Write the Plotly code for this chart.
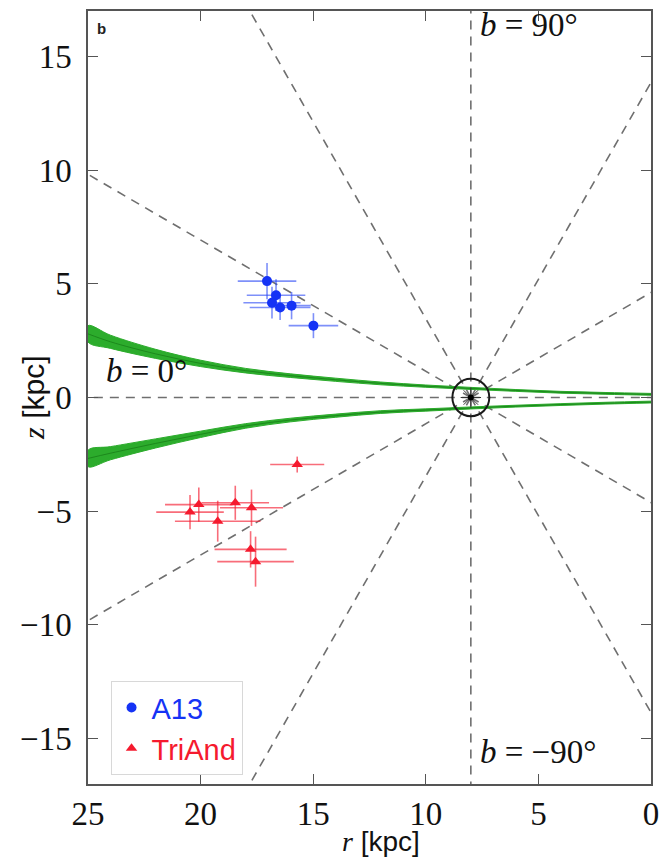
import numpy as np
import plotly.graph_objects as go

# Sun position in the (r, z) plane and the ring drawn around it
sun_r, sun_z = 8.0, 0.0
sun_ring_radius = 0.82

# Galactic-latitude rays drawn out from the Sun (degrees)
ray_angles = [0, 30, 60, 90, 120, 150, 180, 210, 240, 270, 300, 330]

# Warped / flared disc envelope: centre line and half-width of each side
band_r = [0, 2, 4, 6, 8, 10, 12, 14, 16, 18, 20, 22, 24, 25]
band_north = [0.14, 0.18, 0.23, 0.31, 0.40, 0.50, 0.62, 0.78, 0.96, 1.18, 1.50, 1.92, 2.45, 2.80]
band_south = [-0.20, -0.25, -0.31, -0.38, -0.46, -0.55, -0.64, -0.80, -0.99, -1.25, -1.62, -2.02, -2.45, -2.68]
band_halfwidth = [0.04, 0.04, 0.04, 0.04, 0.045, 0.05, 0.06, 0.07, 0.08, 0.10, 0.14, 0.20, 0.29, 0.36]

# A13 overdensity
a13_r = [17.05, 16.65, 16.83, 16.47, 15.96, 14.99]
a13_z = [5.12, 4.50, 4.17, 3.96, 4.04, 3.16]
a13_r_err = [1.30, 1.30, 1.27, 1.35, 0.85, 1.10]
a13_z_err = [0.80, 0.70, 0.70, 0.55, 0.60, 0.55]

# TriAnd overdensity
triand_r = [15.71, 20.47, 20.08, 19.24, 18.46, 17.74, 17.78, 17.56]
triand_z = [-2.95, -5.04, -4.71, -5.44, -4.63, -4.85, -6.68, -7.22]
triand_r_err = [1.20, 1.50, 1.50, 1.90, 1.50, 1.40, 1.60, 1.70]
triand_z_err = [0.35, 0.75, 0.75, 0.90, 0.75, 0.80, 0.80, 1.10]

# Axis ticks
r_ticks = [25, 20, 15, 10, 5, 0]
z_ticks = [15, 10, 5, 0, -5, -10, -15]

BLUE = "#1533f5"
RED = "#f51a2e"
GREEN = "rgb(44,172,44)"
GREEN_DARK = "rgb(22,120,22)"
RAY = "#6f6f6f"
SERIF = "Liberation Serif"
SANS = "Liberation Sans"

fig = go.Figure()

# Dashed latitude rays
ray_len = 40.0
for ang in ray_angles:
    t = np.deg2rad(ang)
    fig.add_trace(go.Scatter(
        x=[sun_r, sun_r + ray_len * np.cos(t)],
        y=[sun_z, sun_z + ray_len * np.sin(t)],
        mode="lines", line=dict(color=RAY, width=1.6, dash="9px,7px"),
        hoverinfo="skip", showlegend=False))

# Disc envelope, north and south sides
br = np.array(band_r, dtype=float)
hw = np.array(band_halfwidth, dtype=float)
for centre in (band_north, band_south):
    c = np.array(centre, dtype=float)
    fig.add_trace(go.Scatter(
        x=np.concatenate([br, br[::-1]]),
        y=np.concatenate([c + hw, (c - hw)[::-1]]),
        mode="lines", fill="toself", fillcolor=GREEN,
        line=dict(color=GREEN, width=1, shape="spline"),
        hoverinfo="skip", showlegend=False))
    fig.add_trace(go.Scatter(
        x=br, y=c, mode="lines",
        line=dict(color=GREEN_DARK, width=0.7, shape="spline"),
        hoverinfo="skip", showlegend=False))

# Ring and symbol marking the Sun
fig.add_shape(type="circle", xref="x", yref="y",
              x0=sun_r - sun_ring_radius, x1=sun_r + sun_ring_radius,
              y0=sun_z - sun_ring_radius, y1=sun_z + sun_ring_radius,
              line=dict(color="#1a1a1a", width=2))
fig.add_trace(go.Scatter(
    x=[sun_r], y=[sun_z], mode="markers",
    marker=dict(symbol="asterisk-open", size=17, color="#333",
                line=dict(color="#333", width=1)),
    hoverinfo="skip", showlegend=False))
fig.add_trace(go.Scatter(
    x=[sun_r], y=[sun_z], mode="markers",
    marker=dict(symbol="circle", size=6, color="black"),
    hoverinfo="skip", showlegend=False))

# Overdensity measurements
fig.add_trace(go.Scatter(
    x=a13_r, y=a13_z, mode="markers",
    name=f'<span style="color:{BLUE}">A13</span>',
    marker=dict(symbol="circle", size=10, color=BLUE),
    error_x=dict(type="data", array=a13_r_err, color="rgba(40,70,245,0.6)", thickness=1.6, width=0),
    error_y=dict(type="data", array=a13_z_err, color="rgba(40,70,245,0.6)", thickness=1.6, width=0)))
fig.add_trace(go.Scatter(
    x=triand_r, y=triand_z, mode="markers",
    name=f'<span style="color:{RED}">TriAnd</span>',
    marker=dict(symbol="triangle-up", size=10, color=RED),
    error_x=dict(type="data", array=triand_r_err, color="rgba(245,30,50,0.65)", thickness=1.6, width=0),
    error_y=dict(type="data", array=triand_z_err, color="rgba(245,30,50,0.65)", thickness=1.6, width=0)))

axis_common = dict(
    showgrid=False, zeroline=False, showline=True, linecolor="#555", linewidth=1.5,
    mirror="ticks", ticks="inside", ticklen=10, tickwidth=1.3, tickcolor="#555",
    tickfont=dict(family=SERIF, size=33, color="#111"),
)

fig.update_layout(
    width=668, height=864,
    margin=dict(l=88, r=9, t=10, b=80),
    paper_bgcolor="white", plot_bgcolor="white",
    xaxis=dict(range=[25, 0], tickvals=r_ticks, ticktext=[str(v) for v in r_ticks],
               ticklabelstandoff=0, **axis_common),
    yaxis=dict(range=[-17, 17], tickvals=z_ticks,
               ticktext=[str(v).replace("-", "\u2212") for v in z_ticks],
               ticklabelstandoff=8, **axis_common),
    legend=dict(x=0.04, y=0.133, xanchor="left", yanchor="top",
                bgcolor="white", bordercolor="#d8d8d8", borderwidth=1,
                font=dict(family=SANS, size=29), itemwidth=30,
                tracegroupgap=0),
    showlegend=True,
)

ann_font = dict(family=SERIF, size=33, color="#111")
fig.add_annotation(x=sun_r, y=16.4, xref="x", yref="y", xanchor="left", xshift=7,
                   text="<i>b</i> = 90°", showarrow=False, font=ann_font)
fig.add_annotation(x=sun_r, y=-15.6, xref="x", yref="y", xanchor="left", xshift=7,
                   text="<i>b</i> = \u221290°", showarrow=False, font=ann_font)
fig.add_annotation(x=24.3, y=1.15, xref="x", yref="y", xanchor="left",
                   text="<i>b</i> = 0°", showarrow=False, font=ann_font)

# Panel letter
fig.add_annotation(x=0.013, y=0.978, xref="paper", yref="paper", xanchor="left", yanchor="middle",
                   text="<b>b</b>", showarrow=False, font=dict(family=SANS, size=15, color="#222"))

# Axis titles
fig.add_annotation(x=0.52, y=-0.075, xref="paper", yref="paper", xanchor="center", yanchor="middle",
                   text=f'<span style="font-family:{SERIF}"><i>r</i></span> [kpc]',
                   showarrow=False, font=dict(family=SANS, size=28, color="#111"))
fig.add_annotation(x=-0.097, y=0.5, xref="paper", yref="paper", xanchor="center", yanchor="middle",
                   textangle=-90,
                   text=f'<span style="font-family:{SERIF}"><i>z</i></span> [kpc]',
                   showarrow=False, font=dict(family=SANS, size=30, color="#111"))

fig.write_html("out.html")
